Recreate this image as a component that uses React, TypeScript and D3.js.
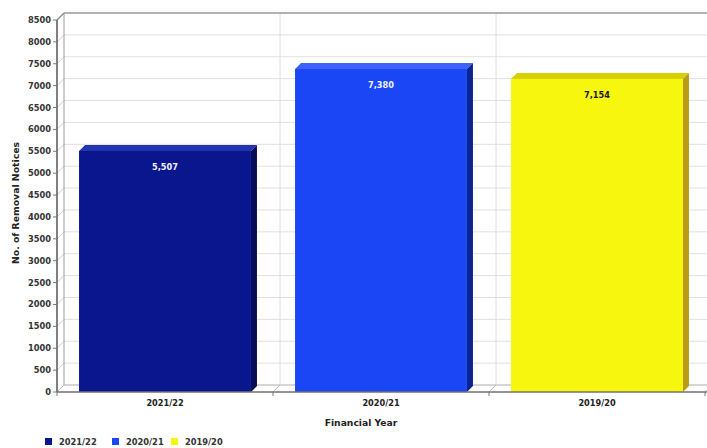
import React from "react";
import * as d3 from "d3";

// Removal notices per financial year
const categories: string[] = ["2021/22", "2020/21", "2019/20"];
const values: number[] = [5507, 7380, 7154];
const valueLabels: string[] = ["5,507", "7,380", "7,154"];
const yTicks: number[] = d3.range(0, 8501, 500);

const frontColors = ["#0a168e", "#1b46f6", "#f7f60f"];
const topColors = ["#2334b0", "#3c63ff", "#d8cf02"];
const sideColors = ["#060c58", "#0b248f", "#b99c14"];
const labelColors = ["#f2f2ff", "#eef2ff", "#1a1a1a"];

const W = 707;
const H = 448;
const FONT = "'DejaVu Sans', Verdana, sans-serif";

export default function App() {
  const left = 57;
  const right = 705;
  const y0 = 392;
  const yTop = 20;
  const wd = 7; // depth of the back wall
  const bd = 6; // depth of the bars

  const x = d3
    .scaleBand<string>()
    .domain(categories)
    .range([left, right])
    .paddingInner(0.204)
    .paddingOuter(0.102);
  const step = x.step();
  const y = d3.scaleLinear().domain([0, 8500]).range([y0, yTop]);

  const boundaries = d3.range(categories.length + 1).map((i) => left + i * step);

  return (
    <svg
      width={W}
      height={H}
      style={{ position: "absolute", left: 0, top: 0, background: "#fff" }}
    >
      <rect width={W} height={H} fill="#fff" />

      {/* back wall */}
      <rect
        x={left + wd}
        y={yTop - wd}
        width={W}
        height={y0 - yTop}
        fill="#fff"
      />
      {/* horizontal grid on back wall and left wall */}
      {yTicks.map((t) => (
        <g key={"g" + t}>
          <line
            x1={left + wd}
            x2={W + 10}
            y1={y(t) - wd}
            y2={y(t) - wd}
            stroke="#e0e0e0"
            strokeWidth={1}
          />
          <line
            x1={left}
            x2={left + wd}
            y1={y(t)}
            y2={y(t) - wd}
            stroke="#cfcfcf"
            strokeWidth={1}
          />
        </g>
      ))}
      {/* vertical grid on back wall and floor */}
      {boundaries.map((b, i) => (
        <g key={"v" + i}>
          <line
            x1={b + wd}
            x2={b + wd}
            y1={yTop - wd}
            y2={y0 - wd}
            stroke={i === 0 ? "#9a9a9a" : "#dedede"}
            strokeWidth={1}
          />
          <line
            x1={b}
            x2={b + wd}
            y1={y0}
            y2={y0 - wd}
            stroke="#bdbdbd"
            strokeWidth={1}
          />
        </g>
      ))}
      {/* floor back edge */}
      <line
        x1={left + wd}
        x2={W + 10}
        y1={y0 - wd}
        y2={y0 - wd}
        stroke="#bdbdbd"
        strokeWidth={1}
      />
      {/* top edge of back wall */}
      <line
        x1={left + wd}
        x2={W + 10}
        y1={yTop - wd}
        y2={yTop - wd}
        stroke="#9e9e9e"
        strokeWidth={1.5}
      />
      <line
        x1={left}
        x2={left + wd}
        y1={yTop}
        y2={yTop - wd}
        stroke="#8a8a8a"
        strokeWidth={1.2}
      />

      {/* bars */}
      {categories.map((c, i) => {
        const bx = x(c) as number;
        const bw = x.bandwidth();
        const yt = y(values[i]);
        const top = `${bx},${yt} ${bx + bd},${yt - bd} ${bx + bw + bd},${yt - bd} ${bx + bw},${yt}`;
        const side = `${bx + bw},${yt} ${bx + bw + bd},${yt - bd} ${bx + bw + bd},${y0 - bd} ${bx + bw},${y0}`;
        return (
          <g key={c}>
            <polygon points={top} fill={topColors[i]} />
            <polygon points={side} fill={sideColors[i]} />
            <rect x={bx} y={yt} width={bw} height={y0 - yt} fill={frontColors[i]} />
            <text
              x={bx + bw / 2}
              y={yt + 19}
              textAnchor="middle"
              fontFamily={FONT}
              fontWeight="bold"
              fontSize={8.2}
              fill={labelColors[i]}
            >
              {valueLabels[i]}
            </text>
          </g>
        );
      })}

      {/* front axes */}
      <line x1={left} x2={left} y1={yTop} y2={y0} stroke="#606060" strokeWidth={1.6} />
      <line x1={left} x2={W} y1={y0} y2={y0} stroke="#707070" strokeWidth={1.6} />

      {/* y ticks */}
      {yTicks.map((t) => (
        <g key={"t" + t}>
          <line x1={left - 4} x2={left} y1={y(t)} y2={y(t)} stroke="#777" strokeWidth={1} />
          <text
            x={left - 6}
            y={y(t) + 3}
            textAnchor="end"
            fontFamily={FONT}
            fontWeight="bold"
            fontSize={8.3}
            fill="#333"
          >
            {t}
          </text>
        </g>
      ))}

      {/* x ticks and category labels */}
      {boundaries.map((b, i) => (
        <line key={"xt" + i} x1={b} x2={b} y1={y0} y2={y0 + 4} stroke="#777" strokeWidth={1} />
      ))}
      {categories.map((c) => (
        <text
          key={"xl" + c}
          x={(x(c) as number) + x.bandwidth() / 2}
          y={406}
          textAnchor="middle"
          fontFamily={FONT}
          fontWeight="bold"
          fontSize={8.2}
          fill="#222"
        >
          {c}
        </text>
      ))}

      {/* axis titles */}
      <text
        x={361}
        y={426}
        textAnchor="middle"
        fontFamily={FONT}
        fontWeight="bold"
        fontSize={9.2}
        fill="#222"
      >
        Financial Year
      </text>
      <text
        transform={`translate(19, ${(yTop + y0) / 2 - 3}) rotate(-90)`}
        textAnchor="middle"
        fontFamily={FONT}
        fontWeight="bold"
        fontSize={9.3}
        fill="#222"
      >
        No. of Removal Notices
      </text>

      {/* legend */}
      {categories.map((c, i) => {
        const lx = [45, 112, 171][i];
        return (
          <g key={"lg" + c}>
            <rect x={lx} y={438} width={7} height={7} fill={frontColors[i]} />
            <text
              x={lx + 14}
              y={445}
              fontFamily={FONT}
              fontWeight="bold"
              fontSize={8.3}
              fill="#333"
            >
              {c}
            </text>
          </g>
        );
      })}
    </svg>
  );
}
